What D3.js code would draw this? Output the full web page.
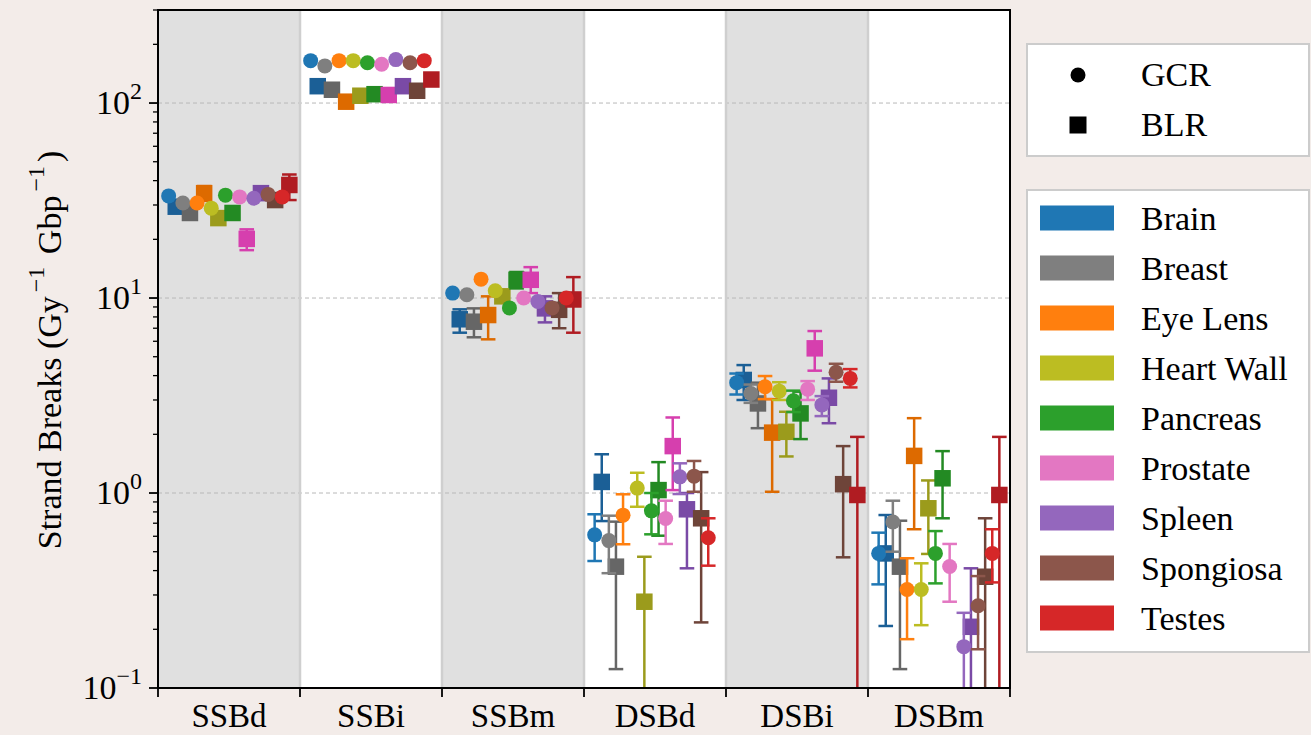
<!DOCTYPE html>
<html>
<head>
<meta charset="utf-8">
<script src="https://cdn.jsdelivr.net/npm/d3@7"></script>
<style>
  html, body { margin: 0; padding: 0; background: #f3ece9; }
  svg { display: block; }
  text { font-family: "Liberation Serif", "Times New Roman", serif; fill: #000; }
</style>
</head>
<body>
<svg id="chart" width="1311" height="735"></svg>
<script>
// ---------------- data ----------------
const categories = ["SSBd", "SSBi", "SSBm", "DSBd", "DSBi", "DSBm"];
const tissues = ["Brain", "Breast", "Eye Lens", "Heart Wall", "Pancreas", "Prostate", "Spleen", "Spongiosa", "Testes"];
const gcrColors = ["#1f77b4", "#7f7f7f", "#ff7f0e", "#bcbd22", "#2ca02c", "#e377c2", "#9467bd", "#8c564b", "#d62728"];
const blrColors = ["#1b5f96", "#666666", "#dd6a00", "#9b9b1c", "#238a23", "#d63fae", "#7a4aa6", "#6e4439", "#b01c22"];
const sourceLabels = ["GCR", "BLR"];
const yTickLabels = [["10", "−1"], ["10", "0"], ["10", "1"], ["10", "2"]];

// rows = tissues, columns = categories
const gcrMean = [
  [33.4, 165, 10.6, 0.61, 3.68, 0.49],
  [30.7, 155, 10.4, 0.57, 3.24, 0.71],
  [30.7, 165, 12.5, 0.77, 3.51, 0.32],
  [28.9, 165, 10.9, 1.06, 3.33, 0.32],
  [33.7, 161, 8.9, 0.81, 2.97, 0.49],
  [33.0, 158, 10.0, 0.74, 3.41, 0.42],
  [32.5, 167, 9.6, 1.21, 2.83, 0.163],
  [34.0, 161, 8.9, 1.22, 4.16, 0.264],
  [33.0, 165, 10.0, 0.59, 3.87, 0.49]
];
const gcrLow = [
  [null, null, null, 0.448, 3.2, 0.34],
  [null, null, null, 0.388, 2.9, 0.5],
  [null, null, null, 0.546, 3.03, 0.178],
  [null, null, null, 0.85, 3.0, 0.21],
  [null, null, null, 0.614, 2.6, 0.344],
  [null, null, null, 0.548, 3.0, 0.277],
  [null, null, null, 0.988, 2.48, 0.05],
  [null, null, null, 1.015, 3.72, 0.158],
  [null, null, null, 0.424, 3.48, 0.348]
];
const gcrHigh = [
  [null, null, null, 0.778, 4.1, 0.626],
  [null, null, null, 0.765, 3.6, 0.913],
  [null, null, null, 0.985, 3.98, 0.463],
  [null, null, null, 1.27, 3.7, 0.436],
  [null, null, null, 1.0, 3.35, 0.638],
  [null, null, null, 0.913, 3.75, 0.548],
  [null, null, null, 1.42, 3.14, 0.243],
  [null, null, null, 1.46, 4.6, 0.375],
  [null, null, null, 0.742, 4.32, 0.652]
];
const blrMean = [
  [29.4, 122, 7.78, 1.14, 3.8, 0.49],
  [27.3, 117, 7.56, 0.419, 2.88, 0.419],
  [34.5, 101.6, 8.18, null, 2.04, 1.55],
  [25.7, 109, 10.2, 0.277, 2.06, 0.835],
  [27.3, 111, 12.4, 1.035, 2.56, 1.19],
  [20.1, 110, 12.4, 1.74, 5.52, null],
  [34.5, 122, 8.85, 0.825, 3.08, 0.206],
  [31.8, 115.6, 8.7, 0.742, 1.11, 0.372],
  [38.0, 132, 9.83, null, 0.977, 0.977]
];
const blrLow = [
  [null, null, 6.64, 0.718, 3.0, 0.208],
  [null, null, 6.29, 0.125, 2.15, 0.125],
  [31.5, null, 6.14, null, 1.015, 0.652],
  [null, null, 9.5, 0.05, 1.54, 0.487],
  [null, null, 11.2, 0.604, 1.89, 0.742],
  [17.6, null, 10.6, 1.035, 4.24, null],
  [null, null, 7.5, 0.411, 2.28, 0.01],
  [null, null, 7.0, 0.217, 0.468, 0.01],
  [31.8, null, 6.64, null, 0.01, 0.01]
];
const blrHigh = [
  [null, null, 8.75, 1.58, 4.53, 0.771],
  [null, null, 8.85, 0.713, 3.68, 0.721],
  [37.5, null, 10.2, null, 3.03, 2.42],
  [null, null, 11.0, 0.471, 2.61, 1.16],
  [null, null, 13.6, 1.44, 3.31, 1.64],
  [22.5, null, 14.4, 2.44, 6.77, null],
  [null, null, 10.2, 1.0, 3.87, 0.411],
  [null, null, 10.6, 1.28, 1.74, 0.742],
  [43.0, null, 12.8, null, 1.94, 1.94]
];

// ---------------- layout ----------------
const svg = d3.select("#chart");
const L = 158, R = 1010, T = 10, B = 688;
const FONT = 34;

const x = d3.scaleLinear().domain([-0.5, categories.length - 0.5]).range([L, R]);
const y = d3.scaleLog().domain([0.1, 300]).range([B, T]);
const groupW = x(1) - x(0);

// background bands
svg.append("g").selectAll("rect").data(categories).join("rect")
  .attr("x", (d, i) => x(i - 0.5)).attr("y", T)
  .attr("width", groupW).attr("height", B - T)
  .attr("fill", (d, i) => i % 2 === 0 ? "#e0e0e0" : "#ffffff");

// grid lines at decades
const majors = [1, 10, 100];
svg.append("g").selectAll("line").data(majors).join("line")
  .attr("x1", L).attr("x2", R).attr("y1", d => y(d)).attr("y2", d => y(d))
  .attr("stroke", "#b8b8b8").attr("stroke-width", 1).attr("stroke-dasharray", "4,3");

// group separators
svg.append("g").selectAll("line").data(d3.range(1, categories.length)).join("line")
  .attr("x1", d => x(d - 0.5)).attr("x2", d => x(d - 0.5))
  .attr("y1", T).attr("y2", B)
  .attr("stroke", "#cfcfcf").attr("stroke-width", 2.5);

// clip
svg.append("clipPath").attr("id", "clip").append("rect")
  .attr("x", L).attr("y", T).attr("width", R - L).attr("height", B - T);
const plot = svg.append("g").attr("clip-path", "url(#clip)");

const capHalf = 7.3, circleR = 7.5, sq = 16.5;

function drawSeries(mean, low, high, colors, shape, shift) {
  tissues.forEach((t, ti) => {
    const g = plot.append("g");
    categories.forEach((c, ci) => {
      const v = mean[ti][ci];
      if (v == null) return;
      const cx = x(ci - 0.425 + 0.1 * ti + shift);
      const col = colors[ti];
      const lo = low[ti][ci], hi = high[ti][ci];
      if (lo != null && hi != null) {
        g.append("line").attr("x1", cx).attr("x2", cx)
          .attr("y1", y(lo)).attr("y2", y(hi))
          .attr("stroke", col).attr("stroke-width", 2.5);
        [lo, hi].forEach(e => {
          g.append("line").attr("x1", cx - capHalf).attr("x2", cx + capHalf)
            .attr("y1", y(e)).attr("y2", y(e))
            .attr("stroke", col).attr("stroke-width", 2.5);
        });
      }
      if (shape === "circle") {
        g.append("circle").attr("cx", cx).attr("cy", y(v)).attr("r", circleR).attr("fill", col);
      } else {
        g.append("rect").attr("x", cx - sq / 2).attr("y", y(v) - sq / 2)
          .attr("width", sq).attr("height", sq).attr("fill", col);
      }
    });
  });
}
drawSeries(blrMean, blrLow, blrHigh, blrColors, "square", 0.05);
drawSeries(gcrMean, gcrLow, gcrHigh, gcrColors, "circle", 0);

// frame
svg.append("rect").attr("x", L).attr("y", T).attr("width", R - L).attr("height", B - T)
  .attr("fill", "none").attr("stroke", "#000").attr("stroke-width", 2);

// y ticks
const minorTicks = [];
[0.1, 1, 10, 100].forEach(dec => { for (let k = 2; k <= 9; k++) { const v = dec * k; if (v <= 300) minorTicks.push(v); } });
svg.append("g").selectAll("line").data(minorTicks).join("line")
  .attr("x1", L - 5).attr("x2", L).attr("y1", d => y(d)).attr("y2", d => y(d))
  .attr("stroke", "#000").attr("stroke-width", 1.3);
const majorTicks = [0.1, 1, 10, 100];
svg.append("g").selectAll("line").data(majorTicks).join("line")
  .attr("x1", L - 9).attr("x2", L).attr("y1", d => y(d)).attr("y2", d => y(d))
  .attr("stroke", "#000").attr("stroke-width", 1.8);
const yl = svg.append("g").selectAll("text").data(majorTicks).join("text")
  .attr("x", L - 16).attr("y", d => y(d) + 11)
  .attr("text-anchor", "end").attr("font-size", FONT);
yl.append("tspan").text((d, i) => yTickLabels[i][0]);
yl.append("tspan").attr("dy", -15).attr("font-size", 24).text((d, i) => yTickLabels[i][1]);

// x ticks at group boundaries
svg.append("g").selectAll("line").data(d3.range(0, categories.length + 1)).join("line")
  .attr("x1", d => x(d - 0.5)).attr("x2", d => x(d - 0.5))
  .attr("y1", B).attr("y2", B + 9)
  .attr("stroke", "#000").attr("stroke-width", 1.8);
svg.append("g").selectAll("text").data(categories).join("text")
  .attr("x", (d, i) => x(i)).attr("y", 727)
  .attr("text-anchor", "middle").attr("font-size", 33).text(d => d);

// y label
const ylab = svg.append("text")
  .attr("transform", "rotate(-90)")
  .attr("x", -350).attr("y", 61)
  .attr("text-anchor", "middle").attr("font-size", FONT);
ylab.append("tspan").text("Strand Breaks (Gy");
ylab.append("tspan").attr("dx", 4).attr("dy", -17).attr("font-size", 24).text("−1");
ylab.append("tspan").attr("dx", 4).attr("dy", 17).text(" Gbp");
ylab.append("tspan").attr("dx", 4).attr("dy", -17).attr("font-size", 24).text("−1");
ylab.append("tspan").attr("dx", 4).attr("dy", 17).text(")");

// legend 1 (marker shapes)
const lg1 = svg.append("g");
lg1.append("rect").attr("x", 1027).attr("y", 44).attr("width", 282).attr("height", 112)
  .attr("fill", "#fff").attr("stroke", "#cccccc").attr("stroke-width", 2);
sourceLabels.forEach((s, i) => {
  const cy = 75 + i * 50;
  if (i === 0) lg1.append("circle").attr("cx", 1078).attr("cy", cy).attr("r", 7.5).attr("fill", "#000");
  else lg1.append("rect").attr("x", 1078 - 8.5).attr("y", cy - 8.5).attr("width", 17).attr("height", 17).attr("fill", "#000");
  lg1.append("text").attr("x", 1141).attr("y", cy + 11).attr("font-size", FONT).text(s);
});

// legend 2 (tissues)
const lg2 = svg.append("g");
lg2.append("rect").attr("x", 1027).attr("y", 190).attr("width", 282).attr("height", 462)
  .attr("fill", "#fff").attr("stroke", "#cccccc").attr("stroke-width", 2);
tissues.forEach((t, i) => {
  const cy = 218 + i * 50;
  lg2.append("rect").attr("x", 1040).attr("y", cy - 12.5).attr("width", 74).attr("height", 25)
    .attr("fill", gcrColors[i]);
  lg2.append("text").attr("x", 1141).attr("y", cy + 12).attr("font-size", FONT).text(t);
});
</script>
</body>
</html>
